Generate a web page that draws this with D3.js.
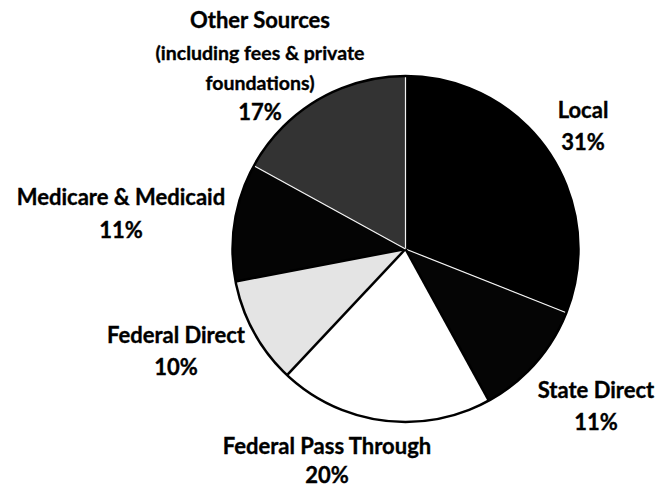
<!DOCTYPE html>
<html>
<head>
<meta charset="utf-8">
<script src="https://cdn.jsdelivr.net/npm/d3@7"></script>
<style>
  html, body { margin: 0; padding: 0; background: #fff; }
  svg { display: block; }
  text { font-family: Lato, "Open Sans", sans-serif; font-weight: 700; fill: #000; stroke: #000; stroke-width: 0.35px; }
</style>
</head>
<body>
<svg id="chart" width="656" height="489"></svg>
<script>
// Funding sources, clockwise from 12 o'clock
const categories = ["Local", "State Direct", "Federal Pass Through", "Federal Direct", "Medicare & Medicaid", "Other Sources"];
const shares = [31, 11, 20, 10, 11, 17];
const labelLines = [
  ["Local"],
  ["State Direct"],
  ["Federal Pass Through"],
  ["Federal Direct"],
  ["Medicare & Medicaid"],
  ["Other Sources", "(including fees & private", "foundations)"]
];

const cx = 405.5, cy = 249, R = 173;

const fill = d3.scaleOrdinal()
  .domain(categories)
  .range(["#000000", "#050505", "#ffffff", "#e4e4e4", "#040404", "#333333"]);
const dark = c => d3.hsl(fill(c)).l < 0.5;

const svg = d3.select("#chart");
const g = svg.append("g").attr("transform", `translate(${cx},${cy})`);

const pie = d3.pie().value(d => d.v).sort(null).startAngle(0).endAngle(2 * Math.PI);
const data = categories.map((c, i) => ({ c, v: shares[i], i }));
const arcs = pie(data);
const arc = d3.arc().innerRadius(0).outerRadius(R);

g.selectAll("path.slice").data(arcs).enter().append("path")
  .attr("class", "slice")
  .attr("d", arc)
  .attr("fill", d => fill(d.data.c));

// Radial separators: white between two dark wedges, black otherwise
arcs.forEach((a, i) => {
  const prev = arcs[(i - 1 + arcs.length) % arcs.length];
  const both = dark(a.data.c) && dark(prev.data.c);
  const ang = a.startAngle;
  g.append("line")
    .attr("x1", 0).attr("y1", 0)
    .attr("x2", R * Math.sin(ang)).attr("y2", -R * Math.cos(ang))
    .attr("stroke", both ? "#f2f2f2" : "#000")
    .attr("stroke-width", both ? 1.2 : 2.5);
});

g.append("circle").attr("r", R).attr("fill", "none").attr("stroke", "#000").attr("stroke-width", 2.5);

// Label anchors (centre x, first baseline y, gap to the percentage line)
const labelPos = [
  [583, 118, 32],
  [596, 398, 32],
  [327, 454, 29],
  [176, 343, 32],
  [121, 205, 33],
  [260, 28, 30]
];
const lineGaps = [32, 30];

const lbl = svg.append("g");
arcs.forEach((a, i) => {
  const [x, y, gap] = labelPos[i];
  const t = lbl.append("text").attr("text-anchor", "middle");
  const lines = labelLines[i];
  let yy = y;
  lines.forEach((ln, j) => {
    t.append("tspan").attr("x", x).attr("y", yy)
      .style("font-size", j > 0 ? "19.5px" : "22px")
      .text(ln);
    yy += j < lines.length - 1 ? lineGaps[j] : gap;
  });
  t.append("tspan").attr("x", x).attr("y", yy)
    .style("font-size", "22px")
    .text(d3.format(".0f")(a.data.v) + "%");
});
</script>
</body>
</html>
